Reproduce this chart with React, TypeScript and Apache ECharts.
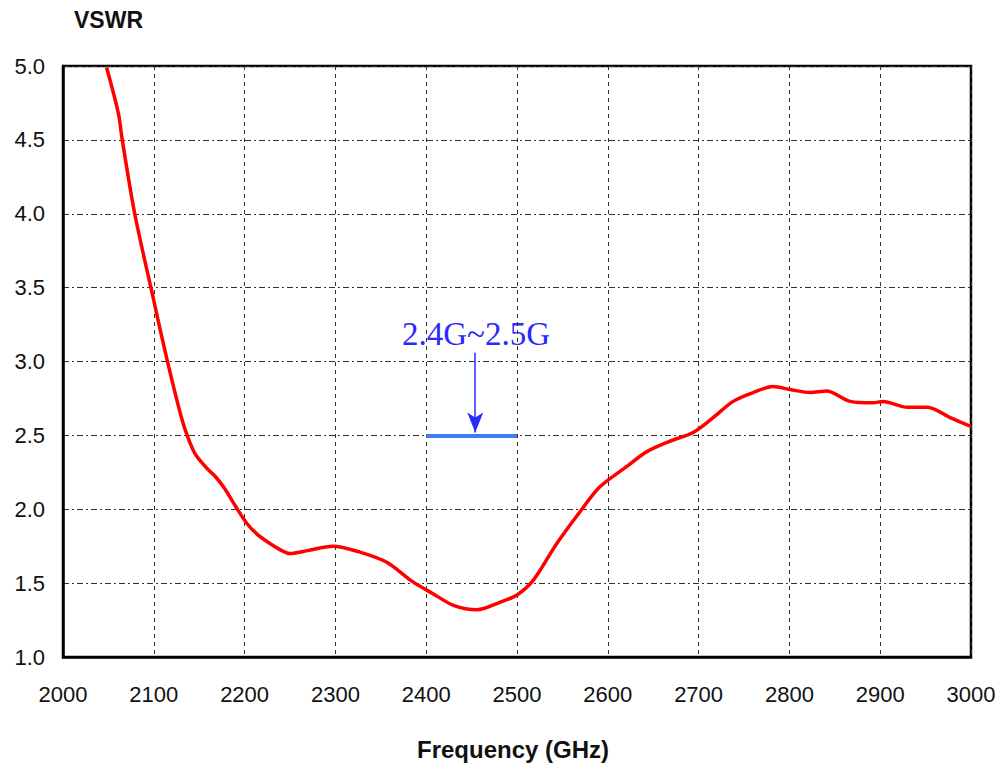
import React, { useEffect, useRef } from "react";
import * as echarts from "echarts";

const freq = [2048, 2061, 2065, 2079, 2099, 2112, 2127, 2135, 2145, 2158, 2168, 2178, 2190, 2203, 2214, 2225, 2238, 2250, 2269, 2297, 2327, 2357, 2385, 2407, 2430, 2456, 2481, 2500, 2518, 2544, 2569, 2591, 2621, 2643, 2668, 2694, 2716, 2738, 2760, 2782, 2801, 2823, 2841, 2867, 2892, 2903, 2930, 2952, 2977, 3000];
const vswr = [4.99, 4.68, 4.51, 4.0, 3.44, 3.08, 2.7, 2.53, 2.38, 2.28, 2.22, 2.14, 2.02, 1.9, 1.83, 1.78, 1.73, 1.7, 1.72, 1.75, 1.71, 1.64, 1.51, 1.43, 1.35, 1.32, 1.37, 1.42, 1.52, 1.77, 1.98, 2.15, 2.29, 2.39, 2.46, 2.52, 2.62, 2.73, 2.79, 2.83, 2.81, 2.79, 2.8, 2.73, 2.72, 2.73, 2.69, 2.69, 2.62, 2.56];
const bandStart = 2400;
const bandEnd = 2500;
const bandLevel = 2.5;
const arrowX = 2454;
const arrowTop = 3.06;
const arrowTip = 2.52;
const bandLabel = "2.4G~2.5G";
const yTitle = "VSWR";
const xTitle = "Frequency (GHz)";

export default function App() {
  const ref = useRef<HTMLDivElement>(null);
  useEffect(() => {
    document.body.style.margin = "0";
    const chart = echarts.init(ref.current!, null, { renderer: "svg" });
    const font = "'Liberation Sans', Arial, sans-serif";
    chart.setOption({
      animation: false,
      backgroundColor: "#fff",
      grid: { left: 63, right: 35, top: 66, bottom: 112, show: true, borderColor: "#000", borderWidth: 2.5 },
      xAxis: {
        type: "value",
        min: 2000,
        max: 3000,
        interval: 100,
        axisLine: { show: true, lineStyle: { color: "#000", width: 2.5 } },
        axisTick: { show: false },
        axisLabel: { color: "#111", fontSize: 22, fontFamily: font, margin: 26, formatter: (v: number) => String(v) },
        splitLine: { show: true, lineStyle: { color: "#333", width: 1, type: [4, 4] } },
      },
      yAxis: {
        type: "value",
        min: 1,
        max: 5,
        interval: 0.5,
        axisLine: { show: true, lineStyle: { color: "#000", width: 2.5 } },
        axisTick: { show: false },
        axisLabel: { color: "#111", fontSize: 22, fontFamily: font, margin: 18, formatter: (v: number) => v.toFixed(1) },
        splitLine: { show: true, lineStyle: { color: "#333", width: 1, type: [6, 3, 2, 3] } },
      },
      graphic: [
        { type: "text", left: 74, top: 8, style: { text: yTitle, font: `bold 23px ${font}`, fill: "#111" } },
        { type: "text", x: 513, y: 749, style: { text: xTitle, font: `bold 24px ${font}`, fill: "#111", align: "center", verticalAlign: "middle" } },
        { type: "text", x: 476, y: 334, style: { text: bandLabel, font: "33px 'Liberation Serif', 'Times New Roman', serif", fill: "#2a2aff", align: "center", verticalAlign: "middle" } },
      ],
      series: [
        {
          type: "line",
          data: freq.map((f, i) => [f, vswr[i]]),
          showSymbol: false,
          smooth: 0.3,
          lineStyle: { color: "#ff0000", width: 3.5 },
          z: 5,
        },
        {
          type: "line",
          data: [],
          markLine: {
            silent: true,
            symbol: ["none", "none"],
            label: { show: false },
            lineStyle: { color: "#3d7ef2", width: 4, type: "solid" },
            data: [[{ coord: [bandStart, bandLevel] }, { coord: [bandEnd, bandLevel] }]],
          },
        },
        {
          type: "line",
          data: [],
          markLine: {
            silent: true,
            symbol: ["none", "arrow"],
            symbolSize: [12, 20],
            label: { show: false },
            lineStyle: { color: "#2a2aff", width: 1.5, type: "solid" },
            data: [[{ coord: [arrowX, arrowTop] }, { coord: [arrowX, arrowTip] }]],
          },
        },
      ],
    });
    return () => chart.dispose();
  }, []);
  return <div ref={ref} style={{ position: "absolute", left: 0, top: 0, width: 1006, height: 769 }} />;
}
